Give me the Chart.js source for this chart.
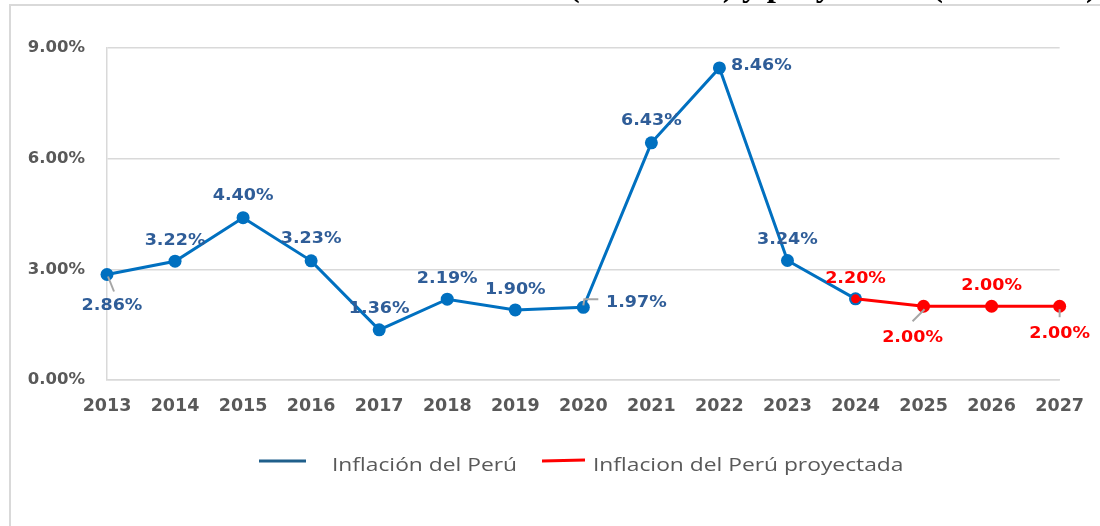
<!DOCTYPE html>
<html>
<head>
<meta charset="utf-8">
<script src="https://cdn.jsdelivr.net/npm/chart.js@4.4.1/dist/chart.umd.min.js"></script>
<style>
  body { margin: 0; background: #fff; }
  #wrap { position: relative; width: 1100px; height: 526px; }
</style>
</head>
<body>
<div id="wrap"><canvas id="inflationChart" width="1100" height="526"></canvas></div>
<script>
const years = ['2013', '2014', '2015', '2016', '2017', '2018', '2019', '2020', '2021', '2022', '2023', '2024', '2025', '2026', '2027'];
const inflacion = [2.86, 3.22, 4.40, 3.23, 1.36, 2.19, 1.90, 1.97, 6.43, 8.46, 3.24, 2.20, null, null, null];
const proyectada = [null, null, null, null, null, null, null, null, null, null, null, 2.20, 2.00, 2.00, 2.00];
const yTicks = [0, 3, 6, 9];
const seriesNames = ['Inflación del Perú', 'Inflacion del Perú proyectada'];
const titleText = '(2013-2023) y proyectada (2024-2027)';

// label placement relative to each point: [dx, dy, leader]
const blueLabelPos = [[5, 30, 'down'], [0, -22], [0, -23], [0, -23], [0, -22], [0, -22], [0, -22], [53, -6, 'right'], [0, -23], [42, -4], [0, -22], null];
const redLabelPos = [null, null, null, null, null, null, null, null, null, null, null, [0, -21], [-11, 30, 'downleft'], [0, -22], [0, 26, 'down2']];

const labelFont = 'bold 15.5px "DejaVu Sans"';

const extras = {
  id: 'extras',
  afterDraw(chart) {
    const ctx = chart.ctx;
    ctx.save();
    // outer frame (top and left only)
    ctx.strokeStyle = '#d9d9d9';
    ctx.lineWidth = 2;
    ctx.beginPath();
    ctx.moveTo(10, 526);
    ctx.lineTo(10, 5);
    ctx.lineTo(1100, 5);
    ctx.stroke();

    // title, cut by the top edge
    ctx.fillStyle = '#000';
    ctx.font = 'bold 33px "Liberation Serif"';
    ctx.textAlign = 'right';
    ctx.textBaseline = 'alphabetic';
    ctx.fillText(titleText, 1097, -4);

    // data labels
    const drawLabels = (dsIndex, values, pos, color) => {
      const meta = chart.getDatasetMeta(dsIndex);
      values.forEach((v, i) => {
        if (v === null || !pos[i]) return;
        const pt = meta.data[i];
        const [dx, dy, leader] = pos[i];
        const cx = pt.x + dx, cy = pt.y + dy;
        ctx.strokeStyle = '#a6a6a6';
        ctx.lineWidth = 2;
        ctx.beginPath();
        if (leader === 'down') { ctx.moveTo(pt.x + 1, pt.y + 2); ctx.lineTo(pt.x + 7, pt.y + 17); }
        if (leader === 'right') { ctx.moveTo(pt.x, pt.y - 2); ctx.lineTo(pt.x + 1, pt.y - 8); ctx.lineTo(pt.x + 15, pt.y - 8); }
        if (leader === 'downleft') { ctx.moveTo(pt.x + 1, pt.y + 3); ctx.lineTo(pt.x - 11, pt.y + 15); }
        if (leader === 'down2') { ctx.moveTo(pt.x, pt.y + 3); ctx.lineTo(pt.x, pt.y + 11); }
        ctx.stroke();
        ctx.font = labelFont;
        ctx.fillStyle = color;
        ctx.textAlign = 'center';
        ctx.save();
        ctx.translate(cx, cy + 5.6);
        ctx.scale(1.13, 1);
        ctx.fillText(v.toFixed(2) + '%', 0, 0);
        ctx.restore();
      });
    };
    drawLabels(0, inflacion, blueLabelPos, '#2f5d98');
    drawLabels(1, proyectada, redLabelPos, '#ff0000');

    // legend
    ctx.lineWidth = 3;
    ctx.strokeStyle = '#1f5f8b';
    ctx.beginPath(); ctx.moveTo(259, 461); ctx.lineTo(306, 461); ctx.stroke();
    ctx.strokeStyle = '#ff0000';
    ctx.beginPath(); ctx.moveTo(542, 461); ctx.lineTo(585, 460); ctx.stroke();
    ctx.font = '18.5px "Open Sans"';
    ctx.fillStyle = '#595959';
    ctx.textAlign = 'left';
    const k = 185 / ctx.measureText(seriesNames[0]).width;
    [[seriesNames[0], 332], [seriesNames[1], 593]].forEach(([t, x]) => {
      ctx.save();
      ctx.translate(x, 471);
      ctx.scale(k, 1);
      ctx.fillText(t, 0, 0);
      ctx.restore();
    });
    ctx.restore();
  }
};

const ctx = document.getElementById('inflationChart').getContext('2d');
const inflationChart = new Chart(ctx, {
  type: 'line',
  data: {
    labels: years,
    datasets: [{
      label: seriesNames[0],
      data: inflacion,
      borderColor: '#0070c0',
      backgroundColor: '#0070c0',
      borderWidth: 3,
      pointRadius: 6.5,
      pointBorderWidth: 0,
      tension: 0,
      clip: false,
      order: 1
    }, {
      label: seriesNames[1],
      data: proyectada,
      borderColor: '#ff0000',
      backgroundColor: '#ff0000',
      borderWidth: 3,
      pointRadius: proyectada.map((v, i) => i === 11 ? 4.5 : 6.5),
      pointBorderWidth: 0,
      tension: 0,
      clip: false,
      order: 0
    }]
  },
  options: {
    responsive: false,
    animation: false,
    devicePixelRatio: 1,
    layout: { padding: { top: 48, right: 40, bottom: 106, left: 0 } },
    scales: {
      y: {
        min: 0,
        max: 9,
        afterFit: s => { s.width = 107; },
        afterBuildTicks: s => { s.ticks = yTicks.map(v => ({ value: v })); },
        ticks: {
          padding: 22,
          color: '#595959',
          font: { family: 'DejaVu Sans', weight: 'bold', size: 16.5 },
          callback: v => v.toFixed(2) + '%'
        },
        grid: { color: '#d9d9d9', lineWidth: 1.5, drawTicks: false },
        border: { color: '#d9d9d9', width: 1.5 }
      },
      x: {
        afterFit: s => { s.height = 40; },
        ticks: {
          padding: 16,
          color: '#595959',
          maxRotation: 0,
          autoSkip: false,
          font: { family: 'DejaVu Sans', weight: 'bold', size: 17.5 }
        },
        grid: { display: false, drawTicks: false },
        border: { color: '#d9d9d9', width: 1.5 }
      }
    },
    plugins: {
      legend: { display: false },
      tooltip: { enabled: false }
    }
  },
  plugins: [extras]
});
</script>
</body>
</html>
